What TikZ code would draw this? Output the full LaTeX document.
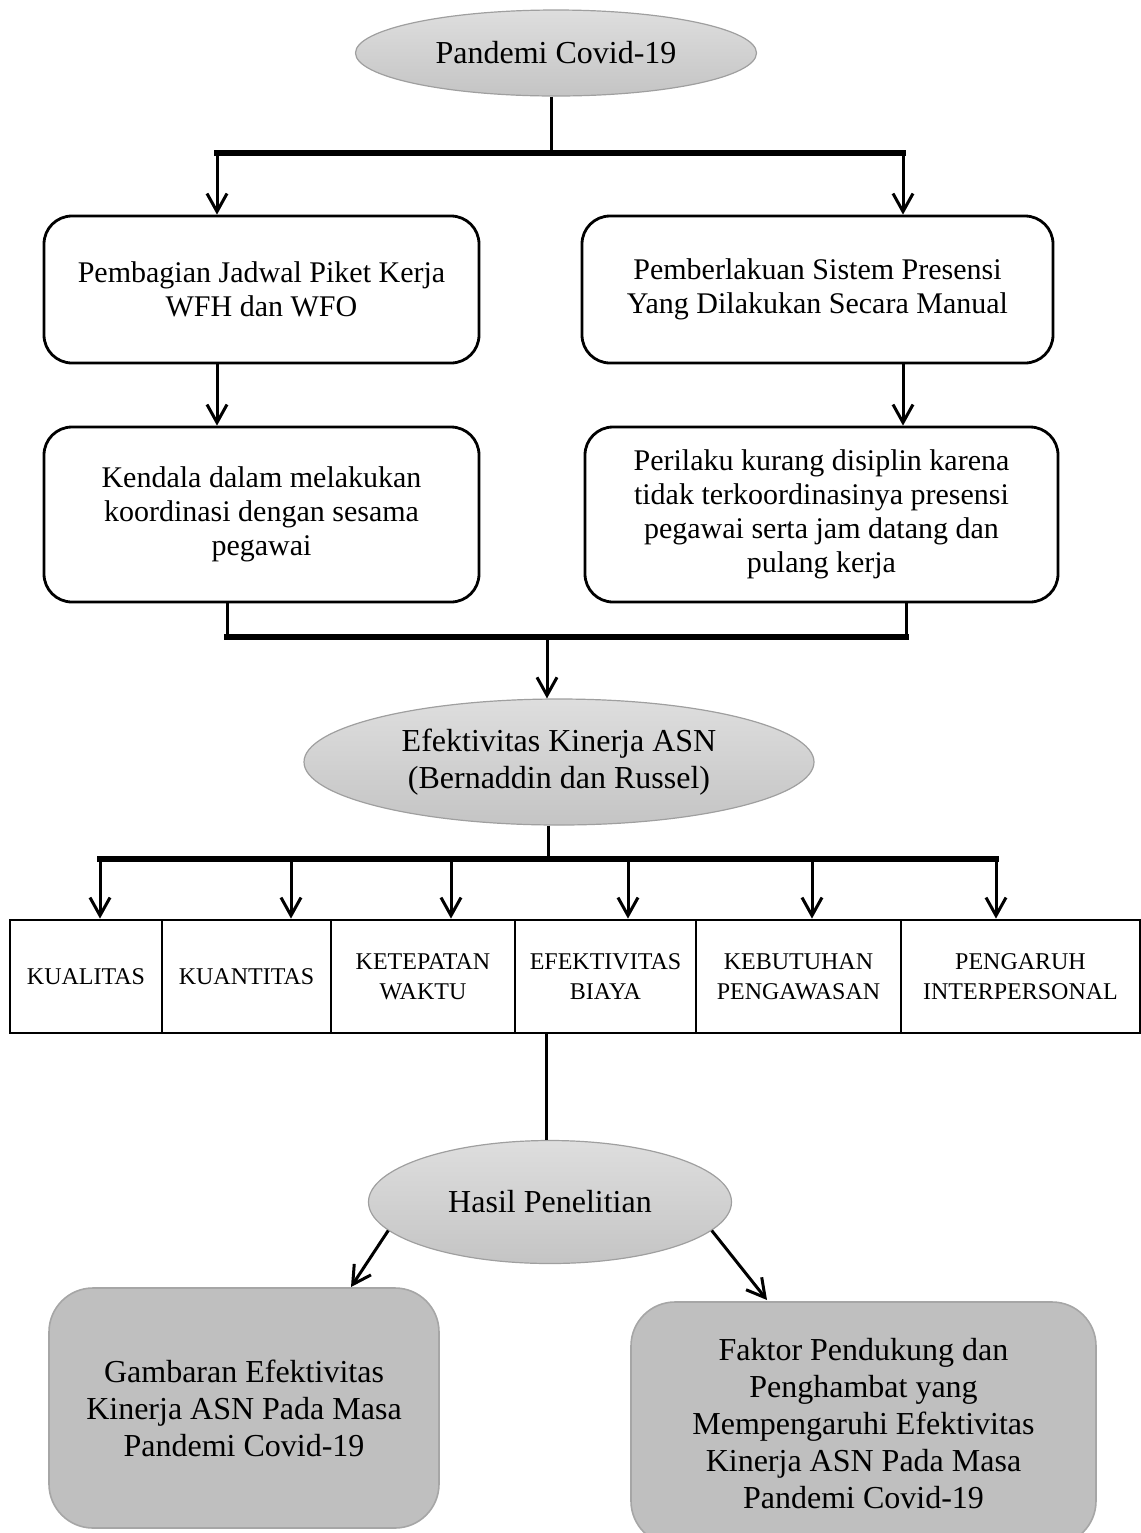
\documentclass[tikz,border=0pt]{standalone}
\usepackage{fontspec}
\setmainfont{Liberation Serif}
\usetikzlibrary{shapes.geometric,arrows.meta}
\begin{document}
\begin{tikzpicture}[x=0.5pt,y=-0.5pt,
 conn/.style={line width=1.5pt},
 bar/.style={line width=2.6pt,line cap=rect},
 arr/.style={line width=1.5pt,-{Straight Barb[length=9pt,width=10pt,line width=1.5pt]}},
 oval/.style={ellipse,draw=gray!75,line width=0.6pt,top color=gray!26,bottom color=gray!46,inner sep=0pt,align=center,font=\fontsize{16}{18.5}\selectfont},
 wbox/.style={draw,line width=1.4pt,rounded corners=14pt,align=center,font=\fontsize{15}{17}\selectfont,inner sep=0pt},
 cbox/.style={draw,line width=1.4pt,align=center,font=\fontsize{12}{15}\selectfont,inner sep=0pt,minimum height=56.5pt},
 gbox/.style={draw=gray!70,fill=gray!50,line width=0.8pt,rounded corners=22pt,align=center,inner sep=0pt,font=\fontsize{16}{18.5}\selectfont}
]
\useasboundingbox (0,0) rectangle (1141,1533);

% nodes
\node[oval,minimum width=200.5pt,minimum height=43pt] (e1) at (556,53) {Pandemi Covid-19};
\node[wbox,minimum width=217.5pt,minimum height=73.5pt] (b1) at (261.5,289.5) {Pembagian Jadwal Piket Kerja\\WFH dan WFO};
\node[wbox,minimum width=235.5pt,minimum height=73.5pt] (b2) at (817.5,289.5) {Pemberlakuan Sistem Presensi\\Yang Dilakukan Secara Manual};
\node[wbox,minimum width=217.5pt,minimum height=87.5pt] (b3) at (261.5,514.5) {Kendala dalam melakukan\\koordinasi dengan sesama\\pegawai};
\node[wbox,minimum width=236.5pt,minimum height=87.5pt] (b4) at (821.5,514.5) {Perilaku kurang disiplin karena\\tidak terkoordinasinya presensi\\pegawai serta jam datang dan\\pulang kerja};
\node[oval,minimum width=255pt,minimum height=63pt] (e2) at (559,762) {Efektivitas Kinerja ASN\\(Bernaddin dan Russel)};

\node[cbox,minimum width=76pt] (k1) at (86,976.5) {KUALITAS};
\node[cbox,minimum width=84.5pt] (k2) at (246.5,976.5) {KUANTITAS};
\node[cbox,minimum width=92pt] (k3) at (423,976.5) {KETEPATAN\\WAKTU};
\node[cbox,minimum width=90.5pt] (k4) at (605.5,976.5) {EFEKTIVITAS\\BIAYA};
\node[cbox,minimum width=102.5pt] (k5) at (798.5,976.5) {KEBUTUHAN\\PENGAWASAN};
\node[cbox,minimum width=119.5pt] (k6) at (1020.5,976.5) {PENGARUH\\INTERPERSONAL};

\node[oval,minimum width=181.5pt,minimum height=61.5pt] (e3) at (550,1202) {Hasil Penelitian};
\node[gbox,minimum width=195pt,minimum height=120pt] (g1) at (244,1408) {Gambaran Efektivitas\\Kinerja ASN Pada Masa\\Pandemi Covid-19};
\node[gbox,minimum width=232.5pt,minimum height=121.5pt] (g2) at (863.5,1423.5) {Faktor Pendukung dan\\Penghambat yang\\Mempengaruhi Efektivitas\\Kinerja ASN Pada Masa\\Pandemi Covid-19};

% guide coordinates
\coordinate (t0) at (551,153);
\coordinate (ta) at (217,153);
\coordinate (tb) at (903,153);
\coordinate (c1) at (227,637);
\coordinate (c2) at (906,637);
\coordinate (c0) at (547,637);
\coordinate (d0) at (548,859);
\coordinate (da) at (100,859);
\coordinate (db) at (291,859);
\coordinate (dc) at (451,859);
\coordinate (dd) at (628,859);
\coordinate (de) at (812,859);
\coordinate (df) at (996,859);
\coordinate (f0) at (546,1100);
\coordinate (h1) at (351,1287);
\coordinate (h2) at (767,1300);

% connectors
\draw[conn] (t0 |- e1.south) -- (t0);
\draw[bar] (ta) -- (tb);
\draw[arr] (ta) -- (ta |- b1.north);
\draw[arr] (tb) -- (tb |- b2.north);
\draw[arr] (b1.south -| ta) -- (b3.north -| ta);
\draw[arr] (b2.south -| tb) -- (b4.north -| tb);

\draw[conn] (b3.south -| c1) -- (c1);
\draw[conn] (b4.south -| c2) -- (c2);
\draw[bar] (c1) -- (c2);
\draw[arr] (c0) -- (c0 |- e2.north);

\draw[conn] (d0 |- e2.south) -- (d0);
\draw[bar] (da) -- (df);
\draw[arr] (da) -- (da |- k1.north);
\draw[arr] (db) -- (db |- k2.north);
\draw[arr] (dc) -- (dc |- k3.north);
\draw[arr] (dd) -- (dd |- k4.north);
\draw[arr] (de) -- (de |- k5.north);
\draw[arr] (df) -- (df |- k6.north);

\draw[conn] (f0 |- k4.south) -- (f0 |- e3.north);
\draw[arr] (e3.190) -- (h1);
\draw[arr] (e3.-10) -- (h2);
\end{tikzpicture}
\end{document}
